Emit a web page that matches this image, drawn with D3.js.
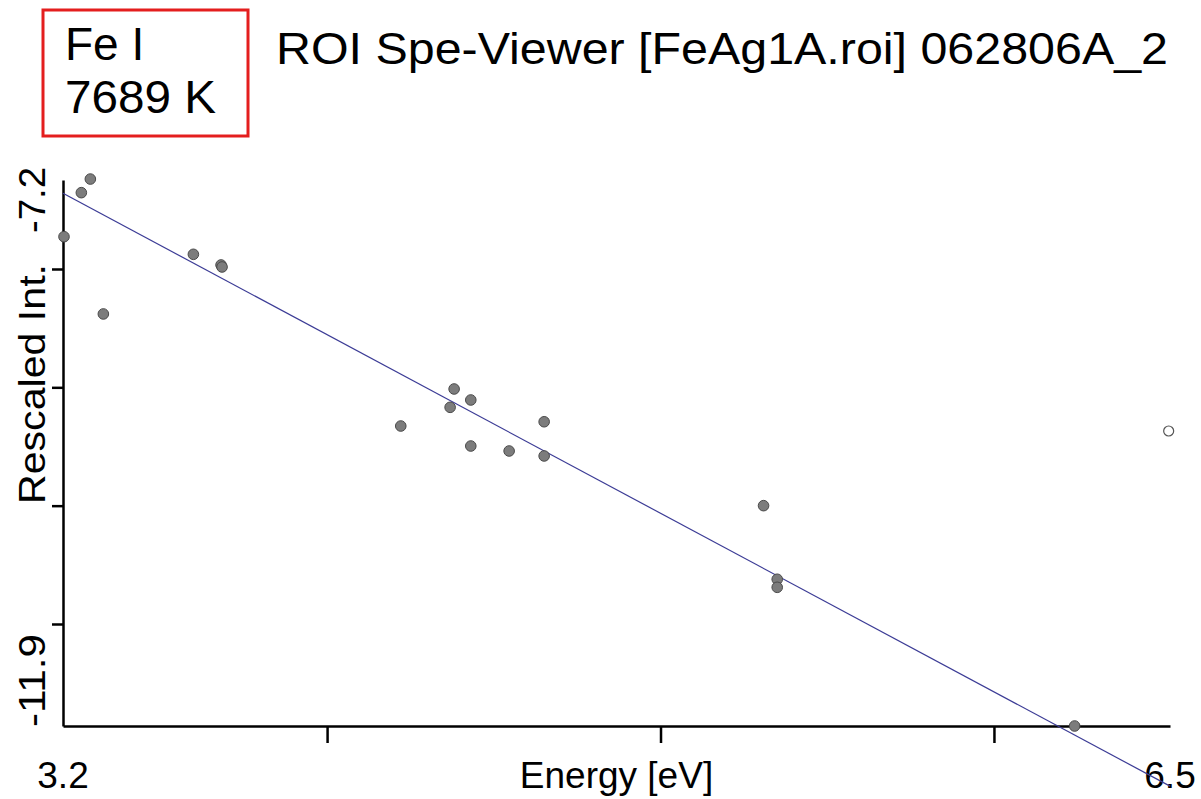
<!DOCTYPE html>
<html>
<head>
<meta charset="utf-8">
<script src="https://cdn.jsdelivr.net/npm/d3@7"></script>
<style>
  body { margin: 0; background: #fff; }
  svg { display: block; font-family: "Liberation Sans", Arial, sans-serif; }
</style>
</head>
<body>
<svg id="chart" width="1201" height="799"></svg>
<script>
// header text
var element = "Fe I";
var temperature = 7689;
var title = "ROI Spe-Viewer [FeAg1A.roi] 062806A_2";

// axis limits (labels are rounded to one decimal)
var xDomain = [3.208, 6.528];
var yDomain = [-11.862, -7.248];
var xTicks = [4, 5, 6];
var yTicks = [-8, -9, -10, -11];

// line energies [eV] and rescaled intensities
var energy = [3.211, 3.263, 3.290, 3.329, 3.599, 3.682, 3.685, 4.221, 4.369, 4.381,
              4.431, 4.431, 4.546, 4.651, 4.651, 5.309, 5.350, 5.350, 6.242];
var intensity = [-7.727, -7.355, -7.240, -8.380, -7.876, -7.966, -7.983, -9.327, -9.169, -9.014,
                 -9.107, -9.496, -9.538, -9.291, -9.580, -10.000, -10.622, -10.690, -11.862];

// excluded line (drawn hollow)
var excludedEnergy = [6.524];
var excludedIntensity = [-9.369];

// Boltzmann fit line end points
var fitX = [3.208, 6.528];
var fitY = [-7.36, -12.37];

var svg = d3.select("#chart");
var plotLeft = 63, plotRight = 1170, plotTop = 180, plotBottom = 726;

var x = d3.scaleLinear().domain(xDomain).range([plotLeft, plotRight]);
var y = d3.scaleLinear().domain(yDomain).range([plotBottom, plotTop]);
// plain hyphen for negative numbers, like the original viewer
var fmt = d3.formatLocale({decimal: ".", thousands: ",", grouping: [3], currency: ["", ""], minus: "-"}).format(".1f");

// label box
svg.append("rect")
    .attr("x", 43).attr("y", 10)
    .attr("width", 205).attr("height", 126)
    .attr("fill", "none")
    .attr("stroke", "#e41e1e")
    .attr("stroke-width", 3);

svg.append("text").attr("x", 65).attr("y", 60)
    .attr("font-size", 46).text(element);
svg.append("text").attr("x", 65).attr("y", 113)
    .attr("font-size", 46)
    .attr("textLength", 151).attr("lengthAdjust", "spacingAndGlyphs")
    .text(temperature + " K");

svg.append("text").attr("x", 276).attr("y", 64)
    .attr("font-size", 44)
    .attr("textLength", 892).attr("lengthAdjust", "spacingAndGlyphs")
    .text(title);

// axes
var xAxis = svg.append("g")
    .attr("transform", "translate(0," + plotBottom + ")")
    .call(d3.axisBottom(x).tickValues(xTicks).tickFormat("").tickSizeInner(17).tickSizeOuter(0));
var yAxis = svg.append("g")
    .attr("transform", "translate(" + plotLeft + ",0)")
    .call(d3.axisLeft(y).tickValues(yTicks).tickFormat("").tickSizeInner(11).tickSizeOuter(0));
[xAxis, yAxis].forEach(function(a) {
    a.selectAll("path, line").attr("stroke", "#000").attr("stroke-width", 2.5);
});

// end labels
svg.append("text").attr("x", x(xDomain[0])).attr("y", 788)
    .attr("text-anchor", "middle").attr("font-size", 37).text(fmt(xDomain[0]));
svg.append("text").attr("x", x(xDomain[1])).attr("y", 788)
    .attr("text-anchor", "middle").attr("font-size", 37).text(fmt(xDomain[1]));
svg.append("text").attr("x", x(d3.mean(xDomain))).attr("y", 788)
    .attr("text-anchor", "middle").attr("font-size", 37).text("Energy [eV]");

svg.append("text").attr("transform", "translate(45,200) rotate(-90)")
    .attr("text-anchor", "middle").attr("font-size", 37)
    .attr("textLength", 66).attr("lengthAdjust", "spacingAndGlyphs")
    .text(fmt(yDomain[1]));
svg.append("text").attr("transform", "translate(45," + (y(yDomain[0]) + 1) + ") rotate(-90)")
    .attr("text-anchor", "start").attr("font-size", 37)
    .attr("textLength", 93).attr("lengthAdjust", "spacingAndGlyphs")
    .text(fmt(yDomain[0]));
svg.append("text").attr("transform", "translate(45,504) rotate(-90)")
    .attr("text-anchor", "start").attr("font-size", 37)
    .attr("textLength", 240).attr("lengthAdjust", "spacingAndGlyphs")
    .text("Rescaled Int.");

// fit line
svg.append("line")
    .attr("x1", x(fitX[0])).attr("y1", y(fitY[0]))
    .attr("x2", x(fitX[1])).attr("y2", y(fitY[1]))
    .attr("stroke", "#3c3c96")
    .attr("stroke-width", 1.2);

// points
svg.append("g").selectAll("circle")
    .data(d3.zip(energy, intensity))
    .enter().append("circle")
    .attr("cx", function(d) { return x(d[0]); })
    .attr("cy", function(d) { return y(d[1]); })
    .attr("r", 5.3)
    .attr("fill", "#7c7c7c")
    .attr("stroke", "#4a4a4a")
    .attr("stroke-width", 1);

svg.append("g").selectAll("circle")
    .data(d3.zip(excludedEnergy, excludedIntensity))
    .enter().append("circle")
    .attr("cx", function(d) { return x(d[0]); })
    .attr("cy", function(d) { return y(d[1]); })
    .attr("r", 5)
    .attr("fill", "#fff")
    .attr("stroke", "#555")
    .attr("stroke-width", 1.2);
</script>
</body>
</html>
